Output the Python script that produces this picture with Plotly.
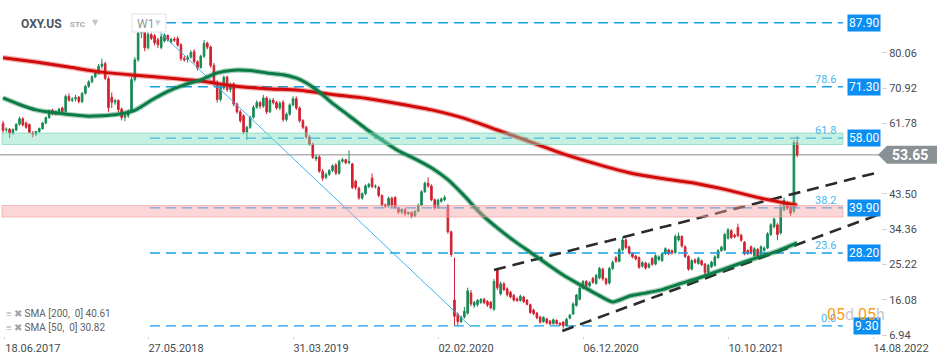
import plotly.graph_objects as go
import pandas as pd

# ---------------- data ----------------
FIRST_WEEK = "2017-07-23"   # weekly candles

OPEN = [
    61.8, 60.2, 60.3, 59.3, 60.1, 61.6, 63.0, 61.9, 61.5, 59.3,
    59.0, 59.7, 60.4, 61.9, 63.3, 65.2, 64.3, 64.9, 65.8, 64.9,
    68.8, 67.8, 68.2, 68.6, 67.4, 69.6, 71.4, 72.6, 73.9, 74.8,
    76.6, 77.3, 73.4, 68.6, 67.3, 67.8, 65.5, 63.4, 63.8, 65.0,
    73.2, 78.3, 85.3, 86.2, 81.4, 84.8, 84.5, 83.5, 81.5, 83.2,
    84.6, 82.9, 83.6, 83.8, 82.2, 78.6, 78.4, 79.0, 80.4, 77.8,
    76.3, 79.2, 82.6, 81.6, 76.8, 72.3, 68.0, 71.0, 73.8, 70.6,
    72.0, 66.8, 64.8, 63.8, 59.6, 60.8, 63.4, 66.0, 67.2, 66.3,
    68.4, 64.8, 67.8, 67.2, 65.8, 67.3, 62.8, 64.2, 66.6, 68.2,
    65.8, 62.5, 60.8, 58.3, 56.4, 52.6, 53.1, 49.4, 47.8, 48.6,
    49.6, 51.0, 48.9, 52.0, 52.4, 51.6, 51.3, 46.8, 45.0, 42.4,
    43.6, 45.4, 47.6, 45.4, 45.2, 43.1, 40.7, 40.3, 42.4, 42.6,
    39.8, 38.8, 39.5, 38.4, 38.7, 37.8, 39.0, 40.6, 44.1, 46.3,
    45.6, 42.0, 39.9, 41.6, 42.0, 40.5, 33.7, 16.0, 12.3, 10.4,
    11.6, 12.6, 17.8, 14.6, 14.8, 15.4, 16.2, 15.6, 15.4, 13.6,
    23.9, 17.6, 20.2, 18.9, 18.0, 17.2, 16.3, 15.9, 16.8, 16.0,
    14.8, 13.4, 12.6, 11.6, 10.4, 11.1, 10.6, 9.9, 10.7, 10.0,
    10.3, 9.3, 11.3, 12.4, 14.6, 16.2, 19.1, 20.8, 19.7, 21.6,
    20.3, 21.8, 24.0, 21.5, 20.4, 24.2, 27.0, 26.0, 29.0, 31.6,
    29.8, 28.0, 27.4, 27.0, 24.8, 25.6, 24.5, 26.8, 25.3, 26.5,
    26.2, 28.0, 29.0, 28.8, 28.3, 31.6, 32.5, 29.8, 27.3, 24.0,
    26.4, 25.5, 26.2, 25.3, 23.2, 24.6, 25.0, 27.0, 28.8, 29.0,
    32.0, 34.0, 32.8, 34.8, 32.8, 31.0, 28.8, 29.8, 27.5, 29.1,
    28.0, 28.9, 29.5, 33.0, 35.0, 35.5, 33.4, 39.4, 41.3, 40.2,
    39.0, 56.8,
]
HIGH = [
    62.5, 60.8, 60.6, 60.5, 61.8, 63.5, 63.4, 62.3, 61.8, 59.8,
    59.9, 60.7, 62.2, 63.6, 65.4, 65.6, 65.2, 65.9, 66.2, 69.3,
    69.6, 68.6, 69.2, 68.9, 69.9, 71.8, 73.0, 74.3, 75.2, 77.2,
    78.6, 77.8, 74.0, 69.8, 68.2, 68.0, 65.9, 64.3, 65.4, 73.8,
    79.0, 86.0, 87.9, 86.8, 85.6, 85.3, 85.0, 84.0, 85.0, 85.2,
    84.9, 84.0, 84.2, 84.4, 82.6, 79.3, 79.5, 80.8, 81.0, 78.2,
    79.6, 83.4, 83.0, 82.0, 77.5, 73.0, 71.8, 74.2, 74.2, 72.4,
    72.5, 67.2, 65.3, 64.2, 61.2, 63.8, 66.5, 67.8, 67.6, 69.2,
    68.8, 68.3, 68.4, 67.6, 67.6, 67.8, 64.6, 67.0, 68.8, 68.8,
    66.2, 62.9, 61.2, 58.8, 56.8, 53.6, 53.5, 50.0, 49.0, 50.0,
    51.2, 51.5, 52.4, 52.9, 52.6, 54.8, 51.6, 47.2, 45.4, 43.9,
    46.0, 46.4, 48.8, 46.0, 45.6, 43.4, 41.0, 42.8, 42.8, 42.9,
    40.1, 39.8, 39.9, 39.0, 39.0, 39.3, 41.0, 44.5, 46.7, 47.8,
    46.0, 42.3, 42.3, 42.6, 43.2, 40.9, 34.0, 27.0, 12.8, 12.0,
    14.2, 19.2, 18.6, 15.8, 16.3, 16.5, 16.6, 16.0, 15.8, 21.5,
    24.4, 20.8, 20.6, 19.3, 18.4, 17.6, 16.8, 17.4, 17.1, 16.2,
    15.1, 13.8, 12.9, 11.9, 11.8, 11.4, 10.8, 11.2, 11.0, 10.3,
    10.5, 11.4, 12.4, 15.4, 17.6, 19.5, 21.2, 21.2, 20.9, 22.0,
    22.8, 24.6, 24.4, 21.8, 24.6, 26.2, 27.4, 29.5, 32.3, 32.0,
    30.1, 28.4, 27.7, 27.3, 26.1, 25.9, 25.7, 27.1, 27.9, 27.6,
    28.4, 29.7, 29.3, 29.1, 33.0, 33.5, 32.8, 30.2, 27.6, 26.6,
    26.8, 27.2, 26.5, 25.6, 25.4, 26.2, 27.6, 29.2, 30.1, 33.4,
    34.7, 34.4, 33.2, 35.8, 33.2, 31.3, 29.2, 30.2, 29.7, 29.5,
    30.2, 29.9, 33.6, 35.9, 37.4, 36.0, 40.8, 42.6, 41.6, 40.6,
    57.5, 58.6,
]
LOW = [
    59.3, 59.5, 58.0, 58.8, 59.8, 61.2, 61.0, 60.4, 59.2, 58.2,
    58.5, 59.4, 60.2, 61.6, 63.0, 63.9, 63.9, 64.5, 64.5, 64.6,
    67.4, 67.3, 67.5, 67.0, 67.1, 69.3, 71.0, 72.2, 73.5, 74.4,
    76.0, 73.0, 64.8, 65.8, 66.6, 64.6, 62.6, 62.4, 63.2, 64.6,
    72.6, 77.8, 83.9, 80.5, 81.0, 83.4, 82.0, 81.4, 81.0, 82.8,
    83.0, 82.5, 82.9, 81.7, 78.0, 77.8, 77.6, 78.6, 77.3, 75.5,
    76.0, 78.8, 81.0, 76.2, 71.5, 67.2, 67.5, 70.5, 70.0, 69.8,
    66.2, 64.3, 62.0, 59.0, 57.5, 60.4, 63.0, 65.6, 65.6, 65.8,
    64.2, 64.5, 66.7, 65.4, 65.2, 62.2, 62.3, 63.8, 66.2, 65.3,
    62.0, 60.3, 57.8, 56.0, 52.6, 52.0, 49.0, 46.9, 47.3, 48.2,
    49.2, 48.4, 48.5, 51.6, 51.2, 51.2, 44.8, 44.6, 42.0, 42.0,
    43.2, 45.0, 45.0, 44.9, 42.6, 40.2, 39.8, 40.0, 40.0, 39.6,
    38.3, 38.2, 37.8, 38.0, 37.2, 37.5, 38.8, 40.3, 43.8, 45.1,
    41.6, 39.4, 39.6, 41.2, 41.6, 33.2, 27.2, 9.4, 9.4, 10.0,
    11.2, 12.2, 14.4, 14.0, 14.3, 15.0, 14.9, 14.2, 13.6, 13.2,
    18.6, 17.2, 18.3, 16.9, 16.4, 15.6, 15.5, 15.6, 15.2, 14.6,
    12.4, 12.1, 11.0, 9.9, 10.1, 9.7, 9.5, 9.6, 9.6, 9.3,
    8.6, 9.0, 11.0, 12.1, 14.3, 15.9, 18.8, 19.3, 19.3, 20.2,
    20.0, 21.4, 21.0, 19.8, 20.0, 23.8, 25.6, 25.8, 28.6, 29.2,
    27.8, 26.8, 26.3, 24.1, 24.4, 23.9, 24.2, 24.9, 25.0, 26.1,
    25.9, 27.7, 27.6, 27.8, 28.0, 31.2, 29.6, 26.9, 23.6, 23.7,
    25.4, 25.2, 24.8, 22.0, 22.9, 24.3, 24.7, 26.7, 28.5, 28.7,
    31.7, 31.8, 32.0, 32.3, 31.1, 27.6, 27.7, 27.8, 27.1, 27.1,
    27.6, 28.5, 29.2, 32.6, 34.6, 31.5, 33.0, 39.0, 39.3, 37.8,
    38.5, 53.0,
]
CLOSE = [
    60.0, 60.3, 59.3, 60.2, 61.6, 63.0, 61.4, 60.8, 59.5, 59.0,
    59.7, 60.5, 61.9, 63.3, 65.1, 64.3, 64.9, 65.5, 64.9, 68.8,
    67.8, 68.1, 68.5, 67.5, 69.6, 71.4, 72.6, 73.9, 74.8, 76.6,
    77.2, 73.5, 65.9, 67.3, 67.7, 65.4, 63.3, 63.9, 65.0, 73.2,
    78.3, 85.3, 86.2, 81.4, 84.9, 83.8, 82.7, 82.2, 84.3, 84.7,
    83.4, 83.6, 83.4, 82.1, 78.6, 78.3, 79.0, 80.2, 77.8, 76.2,
    79.2, 82.6, 81.6, 76.8, 72.3, 68.0, 71.2, 73.8, 70.6, 71.8,
    66.8, 64.8, 62.5, 59.6, 60.8, 63.4, 66.0, 67.2, 66.3, 68.4,
    64.8, 67.8, 67.2, 65.8, 67.0, 62.8, 64.2, 66.6, 68.2, 65.8,
    62.5, 60.8, 58.3, 56.4, 53.0, 53.1, 49.4, 47.6, 48.6, 49.6,
    50.8, 48.9, 52.0, 52.4, 51.6, 51.9, 45.2, 45.2, 42.5, 43.6,
    45.6, 46.0, 45.4, 45.5, 43.1, 40.7, 40.3, 42.4, 40.4, 40.0,
    38.8, 39.5, 38.4, 38.7, 37.7, 39.0, 40.6, 44.1, 46.3, 45.6,
    42.0, 39.9, 41.9, 42.2, 42.6, 33.7, 27.8, 11.8, 10.4, 11.6,
    13.1, 18.4, 15.0, 15.4, 15.9, 16.2, 15.3, 14.7, 14.0, 20.8,
    19.2, 20.2, 18.7, 17.4, 16.8, 16.0, 15.9, 17.0, 15.6, 14.9,
    12.8, 12.5, 11.4, 10.3, 11.5, 10.1, 9.8, 10.9, 9.9, 9.6,
    9.3, 11.0, 12.1, 15.0, 17.3, 19.1, 20.8, 19.7, 20.5, 20.6,
    22.4, 24.2, 21.5, 20.3, 24.2, 25.8, 26.1, 29.1, 31.6, 29.6,
    28.2, 27.2, 26.7, 24.5, 25.7, 24.3, 25.3, 25.3, 27.5, 27.2,
    28.0, 29.3, 28.0, 28.2, 32.5, 32.6, 30.0, 27.3, 24.0, 26.2,
    25.8, 26.8, 25.2, 23.2, 25.0, 25.8, 27.2, 28.8, 29.7, 33.0,
    34.2, 32.2, 32.4, 32.7, 31.5, 28.0, 28.1, 28.2, 29.3, 27.5,
    29.8, 29.5, 33.2, 35.5, 37.0, 33.0, 40.0, 41.8, 39.8, 38.5,
    56.8, 53.65,
]

# moving averages (week index -> value)
SMA200_WEEK = [0, 10, 20, 30, 40, 50, 60, 70, 80, 90, 100, 110, 120, 130,
               140, 150, 160, 170, 180, 190, 200, 210, 220, 230, 241]
SMA200 = [78.8, 77.7, 76.4, 75.1, 74.3, 73.6, 72.8, 71.5, 70.8, 70.4, 69.3,
          68.3, 66.9, 65.3, 63.1, 60.1, 57.0, 53.9, 51.3, 49.0, 47.5, 46.3,
          44.5, 42.4, 40.61]
SMA50_WEEK = [0, 5, 10, 15, 20, 25, 30, 35, 40, 45, 50, 55, 60, 65, 70, 75,
              80, 85, 90, 95, 100, 105, 110, 115, 120, 125, 130, 135, 140,
              145, 150, 155, 160, 165, 170, 175, 180, 185, 190, 195, 200,
              205, 210, 215, 220, 225, 230, 235, 241]
SMA50 = [68.4, 66.7, 65.3, 64.6, 64.1, 63.7, 63.8, 64.2, 65.2, 67.8, 70.1,
         71.8, 73.1, 74.9, 75.6, 75.5, 74.9, 74.4, 73.2, 70.6, 67.0, 63.8,
         60.5, 57.5, 54.7, 52.6, 50.3, 47.2, 43.0, 38.4, 34.7, 31.4, 28.4,
         25.4, 22.5, 20.0, 17.6, 15.5, 17.0, 17.8, 18.7, 20.1, 21.4, 22.9,
         24.4, 25.9, 27.3, 28.7, 30.82]

# Fibonacci retracement drawing
FIB_RATIO = ["0.0", "23.6", "38.2", "61.8", "78.6", "100.0"]
FIB_PRICE = [9.30, 28.20, 39.90, 58.00, 71.30, 87.90]
FIB_FROM = "2018-05-31"
FIB_TO = "2022-06-11"
FIB_DIAG_DATE = ["2018-05-31", "2020-04-10"]
FIB_DIAG_PRICE = [87.90, 9.30]

# support / resistance zones
ZONE_FROM = "2017-07-21"
ZONE_GREEN = [56.33, 59.31]
ZONE_RED = [37.53, 40.51]

# channel trend lines
TREND_UP_DATE = ["2020-05-31", "2022-08-18"]
TREND_UP_PRICE = [23.8, 48.9]
TREND_LOW_DATE = ["2020-10-23", "2022-08-29"]
TREND_LOW_PRICE = [8.0, 38.3]

# axes
X_TICK_DATE = ["2017-07-27", "2018-05-27", "2019-03-31", "2020-02-02",
               "2020-12-06", "2021-10-10", "2022-08-14"]
X_TICK_TEXT = ["18.06.2017", "27.05.2018", "31.03.2019", "02.02.2020",
               "06.12.2020", "10.10.2021", "14.08.2022"]
Y_TICKS = [6.94, 16.08, 25.22, 34.36, 43.50, 61.78, 70.92, 80.06]
X_RANGE = ["2017-07-16 14:00", "2022-08-31"]
Y_RANGE = [6.68, 89.65]

# ---------------- layout helpers (pixels of the 950x360 page) ----------------
W, H = 950, 360
M_L, M_R, M_T, M_B = 0, 69, 16, 24
PW, PH = W - M_L - M_R, H - M_T - M_B
FONT = "Roboto"


def px(x):
    return (x - M_L) / PW


def py(y):
    return (H - M_B - y) / PH


dates = pd.date_range(FIRST_WEEK, periods=len(CLOSE), freq="7D")
last_price = CLOSE[-1]

fig = go.Figure()

# fib horizontal levels
fx, fy = [], []
for p in FIB_PRICE:
    fx += [FIB_FROM, FIB_TO, None]
    fy += [p, p, None]
fig.add_trace(go.Scatter(x=fx, y=fy, mode="lines", hoverinfo="skip",
                         line=dict(color="#149fe9", width=1.3, dash="10px,6px")))
fig.add_trace(go.Scatter(x=FIB_DIAG_DATE, y=FIB_DIAG_PRICE, mode="lines",
                         hoverinfo="skip", line=dict(color="#3cb4f2", width=1)))

# channel lines
for d, p in ((TREND_UP_DATE, TREND_UP_PRICE), (TREND_LOW_DATE, TREND_LOW_PRICE)):
    fig.add_trace(go.Scatter(x=d, y=p, mode="lines", hoverinfo="skip",
                             line=dict(color="#2b2b2b", width=2.6, dash="12px,7px")))

# candles
fig.add_trace(go.Candlestick(
    x=dates, open=OPEN, high=HIGH, low=LOW, close=CLOSE,
    increasing=dict(line=dict(color="#178a55", width=1), fillcolor="#178a55"),
    decreasing=dict(line=dict(color="#d3202f", width=1), fillcolor="#d3202f"),
    whiskerwidth=0,
))

# moving averages
for wk, vals, core, halo in (
    (SMA200_WEEK, SMA200, "#d20a0a", "rgba(215,30,30,0.35)"),
    (SMA50_WEEK, SMA50, "#0c7c46", "rgba(12,124,70,0.35)"),
):
    xd = [dates[i] for i in wk]
    fig.add_trace(go.Scatter(x=xd, y=vals, mode="lines", hoverinfo="skip",
                             line=dict(color=halo, width=5.5, shape="spline", smoothing=0.6)))
    fig.add_trace(go.Scatter(x=xd, y=vals, mode="lines", hoverinfo="skip",
                             line=dict(color=core, width=3, shape="spline", smoothing=0.6)))

shapes = []
# zones (drawn over the candles, translucent)
shapes.append(dict(type="rect", xref="x", yref="y", x0=ZONE_FROM, x1=FIB_TO,
                   y0=ZONE_GREEN[0], y1=ZONE_GREEN[1], layer="above",
                   fillcolor="rgba(128,222,191,0.45)",
                   line=dict(color="rgba(110,210,175,0.6)", width=1)))
shapes.append(dict(type="rect", xref="x", yref="y", x0=ZONE_FROM, x1=FIB_TO,
                   y0=ZONE_RED[0], y1=ZONE_RED[1], layer="above",
                   fillcolor="rgba(246,164,166,0.45)",
                   line=dict(color="rgba(240,150,150,0.6)", width=1)))
# current price line
shapes.append(dict(type="line", xref="paper", yref="y", x0=0, x1=1,
                   y0=last_price, y1=last_price, layer="below",
                   line=dict(color="#8c8c8c", width=1)))
# current price tag with arrow
yfrac = (last_price - Y_RANGE[0]) / (Y_RANGE[1] - Y_RANGE[0])
shapes.append(dict(type="path", xref="paper", yref="paper",
                   xsizemode="pixel", ysizemode="pixel", xanchor=1, yanchor=yfrac,
                   path="M -3,0 L 6,9 L 56,9 L 56,-9 L 6,-9 Z",
                   fillcolor="#8a9195", line=dict(width=0)))
# W1 box
shapes.append(dict(type="rect", xref="paper", yref="paper",
                   x0=px(132), x1=px(166), y0=py(32), y1=py(14),
                   fillcolor="white", line=dict(color="#dfe3e7", width=1)))

ann = []
# price boxes on the right
for p in FIB_PRICE:
    ann.append(dict(xref="paper", yref="y", x=1, y=p, xanchor="right", yanchor="middle",
                    text=f"{p:.2f}", showarrow=False, bgcolor="#0b8ef3", borderpad=1,
                    font=dict(family=FONT, size=12, color="white")))
# fib ratio labels
for r, p in zip(FIB_RATIO, FIB_PRICE):
    if r == "100.0":
        continue
    ann.append(dict(xref="x", yref="y", x=FIB_TO, y=p, xanchor="right", yanchor="bottom",
                    xshift=-5, yshift=-1, text=r, showarrow=False,
                    font=dict(family=FONT, size=11, color="#4ab4ee")))
# current price text
ann.append(dict(xref="paper", yref="y", x=1, y=last_price, xanchor="left", yanchor="middle",
                xshift=9, text=f"<b>{last_price:.2f}</b>", showarrow=False,
                font=dict(family=FONT, size=14, color="white")))
# header
ann.append(dict(xref="paper", yref="paper", x=px(19), y=py(24), xanchor="left", yanchor="middle",
                text="<b>OXY.US</b>", showarrow=False,
                font=dict(family=FONT, size=12, color="#4a5561")))
ann.append(dict(xref="paper", yref="paper", x=px(68), y=py(25), xanchor="left", yanchor="middle",
                text="<b>STC</b>", showarrow=False,
                font=dict(family=FONT, size=8, color="#a3abb3")))
ann.append(dict(xref="paper", yref="paper", x=px(90), y=py(22), xanchor="left", yanchor="middle",
                text="▼", showarrow=False,
                font=dict(family="DejaVu Sans", size=8, color="#c3c8cc")))
ann.append(dict(xref="paper", yref="paper", x=px(135), y=py(24), xanchor="left", yanchor="middle",
                text="W1", showarrow=False,
                font=dict(family=FONT, size=12, color="#8f969d")))
ann.append(dict(xref="paper", yref="paper", x=px(153), y=py(23), xanchor="left", yanchor="middle",
                text="▼", showarrow=False,
                font=dict(family="DejaVu Sans", size=7, color="#c8ccd0")))
# indicator legend
for yy, name, vals in ((313, "SMA [200,  0]", SMA200), (327, "SMA [50,  0]", SMA50)):
    ann.append(dict(xref="paper", yref="paper", x=px(4), y=py(yy), xanchor="left",
                    yanchor="middle", showarrow=False,
                    text=f'<span style="color:#a6a6a6">≡ ✖</span> {name} {vals[-1]:.2f}',
                    font=dict(family=FONT, size=10, color="#5f5f5f")))
# countdown
ann.append(dict(xref="paper", yref="paper", x=px(825), y=py(314), xanchor="left",
                yanchor="middle", showarrow=False,
                text='<span style="color:#f5a019">05</span><span style="color:#c8c8c8">d</span> '
                     '<span style="color:#f5a019">05</span><span style="color:#c8c8c8">h</span>',
                font=dict(family=FONT, size=16)))

fig.update_layout(
    width=W, height=H,
    margin=dict(l=M_L, r=M_R, t=M_T, b=M_B),
    paper_bgcolor="white", plot_bgcolor="white",
    showlegend=False,
    shapes=shapes, annotations=ann,
    font=dict(family=FONT),
    xaxis=dict(type="date", range=X_RANGE, rangeslider=dict(visible=False),
               tickvals=X_TICK_DATE, ticktext=X_TICK_TEXT,
               ticks="outside", ticklen=2, tickcolor="#cfcfcf",
               ticklabelshift=28,
               tickfont=dict(family=FONT, size=11, color="#454b52"),
               showgrid=False, zeroline=False, showline=False),
    yaxis=dict(side="right", range=Y_RANGE,
               tickvals=Y_TICKS, ticktext=[f"{v:.2f}" for v in Y_TICKS],
               ticks="outside", ticklen=5, tickcolor="#d5d5d5",
               tickfont=dict(family=FONT, size=11, color="#454b52"),
               showgrid=False, zeroline=False, showline=False),
)

fig.write_html("out.html",
               config={"displayModeBar": False},
               post_script="document.body.style.margin='0px';"
                           "document.body.style.overflow='hidden';")
